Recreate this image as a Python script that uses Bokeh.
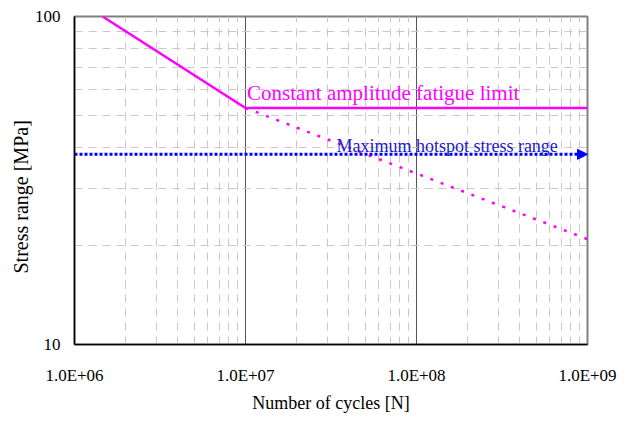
from bokeh.plotting import figure
from bokeh.models import FixedTicker, Label, Arrow, NormalHead, Title
from bokeh.embed import file_html
from bokeh.resources import INLINE

# S-N curve (DNV D-type): m=3 branch, knee at 1e7 cycles, m=5 branch beyond
sn_upper_n = [1.459e6, 1.0e7]
sn_upper_s = [100.0, 52.63]
cafl_n = [1.0e7, 1.0e9]
cafl_s = [52.63, 52.63]
sn_lower_n = [1.0e7, 1.0e9]
sn_lower_s = [52.63, 20.95]

# Maximum hotspot stress range
hotspot_n = [1.0e6, 1.0e9]
hotspot_s = [38.0, 38.0]

x_ticks = [1e6, 1e7, 1e8, 1e9]
x_tick_labels = ["1.0E+06", "1.0E+07", "1.0E+08", "1.0E+09"]
x_minor = [k * d for d in (1e6, 1e7, 1e8) for k in range(2, 10)]
y_ticks = [10, 100]
y_tick_labels = ["10", "100"]
y_minor = [20, 30, 40, 50, 60, 70, 80, 90]

FONT = "Liberation Serif"
MAGENTA = "#FF00FF"
BLUE = "#0000FF"

p = figure(width=632, height=423, x_axis_type="log", y_axis_type="log",
           x_range=(1e6, 1e9), y_range=(10, 100),
           output_backend="svg", toolbar_location=None,
           min_border_left=74, min_border_right=45,
           min_border_top=16, min_border_bottom=79,
           background_fill_color="white", border_fill_color="white")

p.outline_line_color = "#808080"
p.outline_line_width = 2

p.xaxis.ticker = FixedTicker(ticks=x_ticks, minor_ticks=x_minor)
p.yaxis.ticker = FixedTicker(ticks=y_ticks, minor_ticks=y_minor)
p.xaxis.major_label_overrides = {t: s for t, s in zip(x_ticks, x_tick_labels)}
p.yaxis.major_label_overrides = {t: s for t, s in zip(y_ticks, y_tick_labels)}

for ax in (p.xaxis, p.yaxis):
    ax.major_tick_in = 0
    ax.major_tick_out = 0
    ax.minor_tick_in = 0
    ax.minor_tick_out = 0
    ax.axis_line_color = "black"
    ax.axis_line_width = 1.5
    ax.major_label_text_font = FONT
    ax.major_label_text_font_size = "17px"
    ax.major_label_text_color = "black"
    ax.axis_label_text_font = FONT
    ax.axis_label_text_font_style = "normal"
    ax.axis_label_text_color = "black"

p.xaxis.axis_label = "Number of cycles [N]"
p.xaxis.axis_label_text_font_size = "18px"
p.xaxis.major_label_standoff = 21
p.xaxis.axis_label_standoff = 5
p.yaxis.major_label_standoff = 14

p.xgrid.grid_line_color = "#555555"
p.xgrid.grid_line_width = 1
p.xgrid.minor_grid_line_color = "#C8C8C8"
p.xgrid.minor_grid_line_dash = "8 6"
p.xgrid.minor_grid_line_width = 1
p.ygrid.grid_line_color = None
p.ygrid.minor_grid_line_color = "#C8C8C8"
p.ygrid.minor_grid_line_dash = "8 6"
p.ygrid.minor_grid_line_width = 1

# S-N curve
p.line(sn_upper_n, sn_upper_s, line_color=MAGENTA, line_width=2.5)
p.line(cafl_n, cafl_s, line_color=MAGENTA, line_width=2.5)
p.line(sn_lower_n, sn_lower_s, line_color=MAGENTA, line_width=2.5, line_dash="3 8")

# Hotspot stress range with arrow head
p.add_layout(Arrow(end=NormalHead(size=10, fill_color=BLUE, line_color=BLUE),
                   x_start=hotspot_n[0], y_start=hotspot_s[0],
                   x_end=hotspot_n[1], y_end=hotspot_s[1],
                   line_color=BLUE, line_width=3, line_dash="3 2"))

p.add_layout(Label(x=1.02e7, y=cafl_s[0], y_offset=15, text="Constant amplitude fatigue limit",
                   text_font=FONT, text_font_size="21px", text_color=MAGENTA,
                   text_baseline="alphabetic"))
p.add_layout(Label(x=3.4e7, y=hotspot_s[0], y_offset=8, text="Maximum hotspot stress range",
                   text_font=FONT, text_font_size="18px", text_color="#2020C8",
                   text_baseline="alphabetic"))

# Vertical axis title, set slightly below the frame's middle
p.add_layout(Title(text="Stress range [MPa]", align="left", offset=71, standoff=0,
                   text_font=FONT, text_font_size="20px", text_font_style="normal",
                   text_color="black"), "left")

open("out.html", "w").write(file_html(p, INLINE))
